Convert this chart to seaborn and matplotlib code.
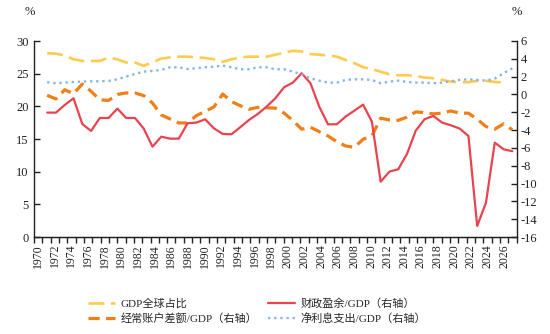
import numpy as np
import matplotlib
matplotlib.use('Agg')
import matplotlib.pyplot as plt
from matplotlib.ticker import FixedLocator
import seaborn as sns

# ---------------- data ----------------
years_main = list(range(1971, 2025))
years_gdp = list(range(1971, 2024))

gdp_share = [28.13, 28.07, 27.8, 27.2, 26.95, 26.95, 26.95, 27.46, 27.2, 26.7,
             26.7, 26.2, 26.75, 27.3, 27.5, 27.6, 27.6, 27.5, 27.4, 27.2,
             26.8, 27.2, 27.5, 27.6, 27.6, 27.6, 27.9, 28.2, 28.5, 28.4,
             28.0, 27.9, 27.8, 27.6, 27.1, 26.6, 26.0, 25.7, 25.3, 24.9,
             24.75, 24.76, 24.65, 24.4, 24.3, 24.04, 23.78, 23.7, 23.7, 23.9,
             23.9, 23.74, 23.63]

fiscal_balance = [-2.04, -2.04, -1.18, -0.43, -3.31, -4.10, -2.64, -2.64, -1.59, -2.64,
                  -2.64, -3.83, -5.86, -4.74, -4.96, -4.96, -3.23, -3.16, -2.79, -3.80,
                  -4.43, -4.47, -3.68, -2.86, -2.19, -1.37, -0.43, 0.81, 1.33, 2.38,
                  1.26, -1.37, -3.35, -3.35, -2.49, -1.82, -1.14, -3.05, -9.79, -8.66,
                  -8.40, -6.68, -4.06, -2.78, -2.41, -3.16, -3.46, -3.83, -4.66, -14.76,
                  -12.14, -5.41, -6.15, -6.37]

current_account = [-0.1, -0.5, 0.53, 0.08, 1.17, 0.35, -0.6, -0.67, 0.0, 0.17,
                   0.17, -0.13, -0.96, -2.3, -2.75, -3.2, -3.2, -2.38, -1.9, -1.4,
                   0.05, -0.8, -1.26, -1.66, -1.45, -1.5, -1.53, -2.1, -2.93, -3.9,
                   -3.68, -4.17, -4.66, -5.3, -5.78, -5.93, -5.03, -4.66, -2.67, -2.86,
                   -2.9, -2.55, -1.96, -2.04, -2.18, -2.1, -1.85, -2.1, -2.1, -2.78,
                   -3.6, -3.9, -3.3, -3.97]

net_interest = [1.37, 1.26, 1.33, 1.4, 1.44, 1.48, 1.48, 1.52, 1.7, 2.0,
                2.3, 2.56, 2.64, 2.75, 3.05, 3.05, 2.86, 2.94, 3.05, 3.12,
                3.23, 3.05, 2.83, 2.83, 3.05, 3.05, 2.83, 2.83, 2.56, 2.27,
                1.82, 1.55, 1.33, 1.33, 1.63, 1.7, 1.7, 1.63, 1.26, 1.44,
                1.55, 1.4, 1.33, 1.33, 1.26, 1.33, 1.48, 1.63, 1.7, 1.63,
                1.55, 1.78, 2.38, 2.94]

label_years = list(range(1970, 2028, 2))
left_ticks = list(range(0, 31, 5))
right_ticks = list(range(-16, 7, 2))

names = ['GDP全球占比', '经常账户差额/GDP（右轴）', '财政盈余/GDP（右轴）', '净利息支出/GDP（右轴）']
colors = ['#FFCB4C', '#F07F17', '#E8434F', '#87B5E8']

# ---------------- style ----------------
sns.set_style('ticks')
plt.rcParams['font.family'] = ['Liberation Serif', 'Noto Sans CJK SC', 'DejaVu Sans']
plt.rcParams['axes.unicode_minus'] = False

fig = plt.figure(figsize=(5.5, 3.34), dpi=100)
ax = fig.add_axes([34 / 550, 1 - 237 / 334, (516.7 - 34) / 550, (237 - 41) / 334])
ax2 = ax.twinx()

sns.lineplot(x=years_gdp, y=gdp_share, ax=ax, color=colors[0], lw=1.9,
             linestyle=(0, (6, 2.5)), label=names[0], legend=False)
sns.lineplot(x=years_main, y=current_account, ax=ax2, color=colors[1], lw=2.3,
             linestyle=(0, (3.5, 2)), label=names[1], legend=False)
sns.lineplot(x=years_main, y=fiscal_balance, ax=ax2, color=colors[2], lw=1.6,
             label=names[2], legend=False)
sns.lineplot(x=years_main, y=net_interest, ax=ax2, color=colors[3], lw=1.7,
             linestyle=(0, (1, 1.6)), label=names[3], legend=False)

ax.set_xlim(1969.5, 2024.5)
ax.set_ylim(0, 30)
ax2.set_ylim(-16, 6)
ax.set_yticks(left_ticks)
ax2.set_yticks(right_ticks)
ax.set_ylabel('')
ax2.set_ylabel('')

for a in (ax, ax2):
    a.spines['top'].set_visible(False)
    for s in ('left', 'right', 'bottom'):
        a.spines[s].set_color('#222222')
        a.spines[s].set_linewidth(1.0)
ax.spines['right'].set_visible(False)
ax2.spines['left'].set_visible(False)
ax2.spines['bottom'].set_visible(False)

ax.tick_params(axis='y', direction='in', length=4, width=1, labelsize=9, pad=4, colors='#222222')
ax2.tick_params(axis='y', direction='in', length=4, width=1, labelsize=9, pad=3, colors='#222222')
ax.tick_params(axis='x', bottom=False, labelbottom=False)
ax2.tick_params(axis='x', bottom=False, labelbottom=False)

# category-style label axis (58 year slots across the same width)
def fwd(x):
    return 1969.5 + (np.asarray(x) - 1969.5) * 58.0 / 55.0

def inv(u):
    return 1969.5 + (np.asarray(u) - 1969.5) * 55.0 / 58.0

sec = ax.secondary_xaxis('bottom', functions=(fwd, inv))
sec.set_xticks(label_years)
sec.set_xticklabels([str(y) for y in label_years], rotation=90)
sec.xaxis.set_minor_locator(FixedLocator(np.arange(1969.5, 2028, 1.0)))
sec.tick_params(which='major', length=0, labelsize=8.5, pad=5, colors='#222222')
sec.tick_params(which='minor', length=4, width=1, direction='out', colors='#222222')
sec.spines['bottom'].set_color('#222222')

fig.text(30 / 550, 1 - 12 / 334, '%', ha='center', va='center', fontsize=9, color='#222222')
fig.text(517 / 550, 1 - 12 / 334, '%', ha='center', va='center', fontsize=9, color='#222222')

h1 = ax.get_lines()
h2 = ax2.get_lines()
handles = [h1[0], h2[0], h2[1], h2[2]]
fig.legend(handles, names, ncol=2, loc='center', bbox_to_anchor=(257 / 550, 1 - 311 / 334),
           frameon=False, fontsize=8, handlelength=2.4, columnspacing=1.0,
           handletextpad=0.5, labelspacing=0.45)

fig.savefig('out.png', dpi=100)
